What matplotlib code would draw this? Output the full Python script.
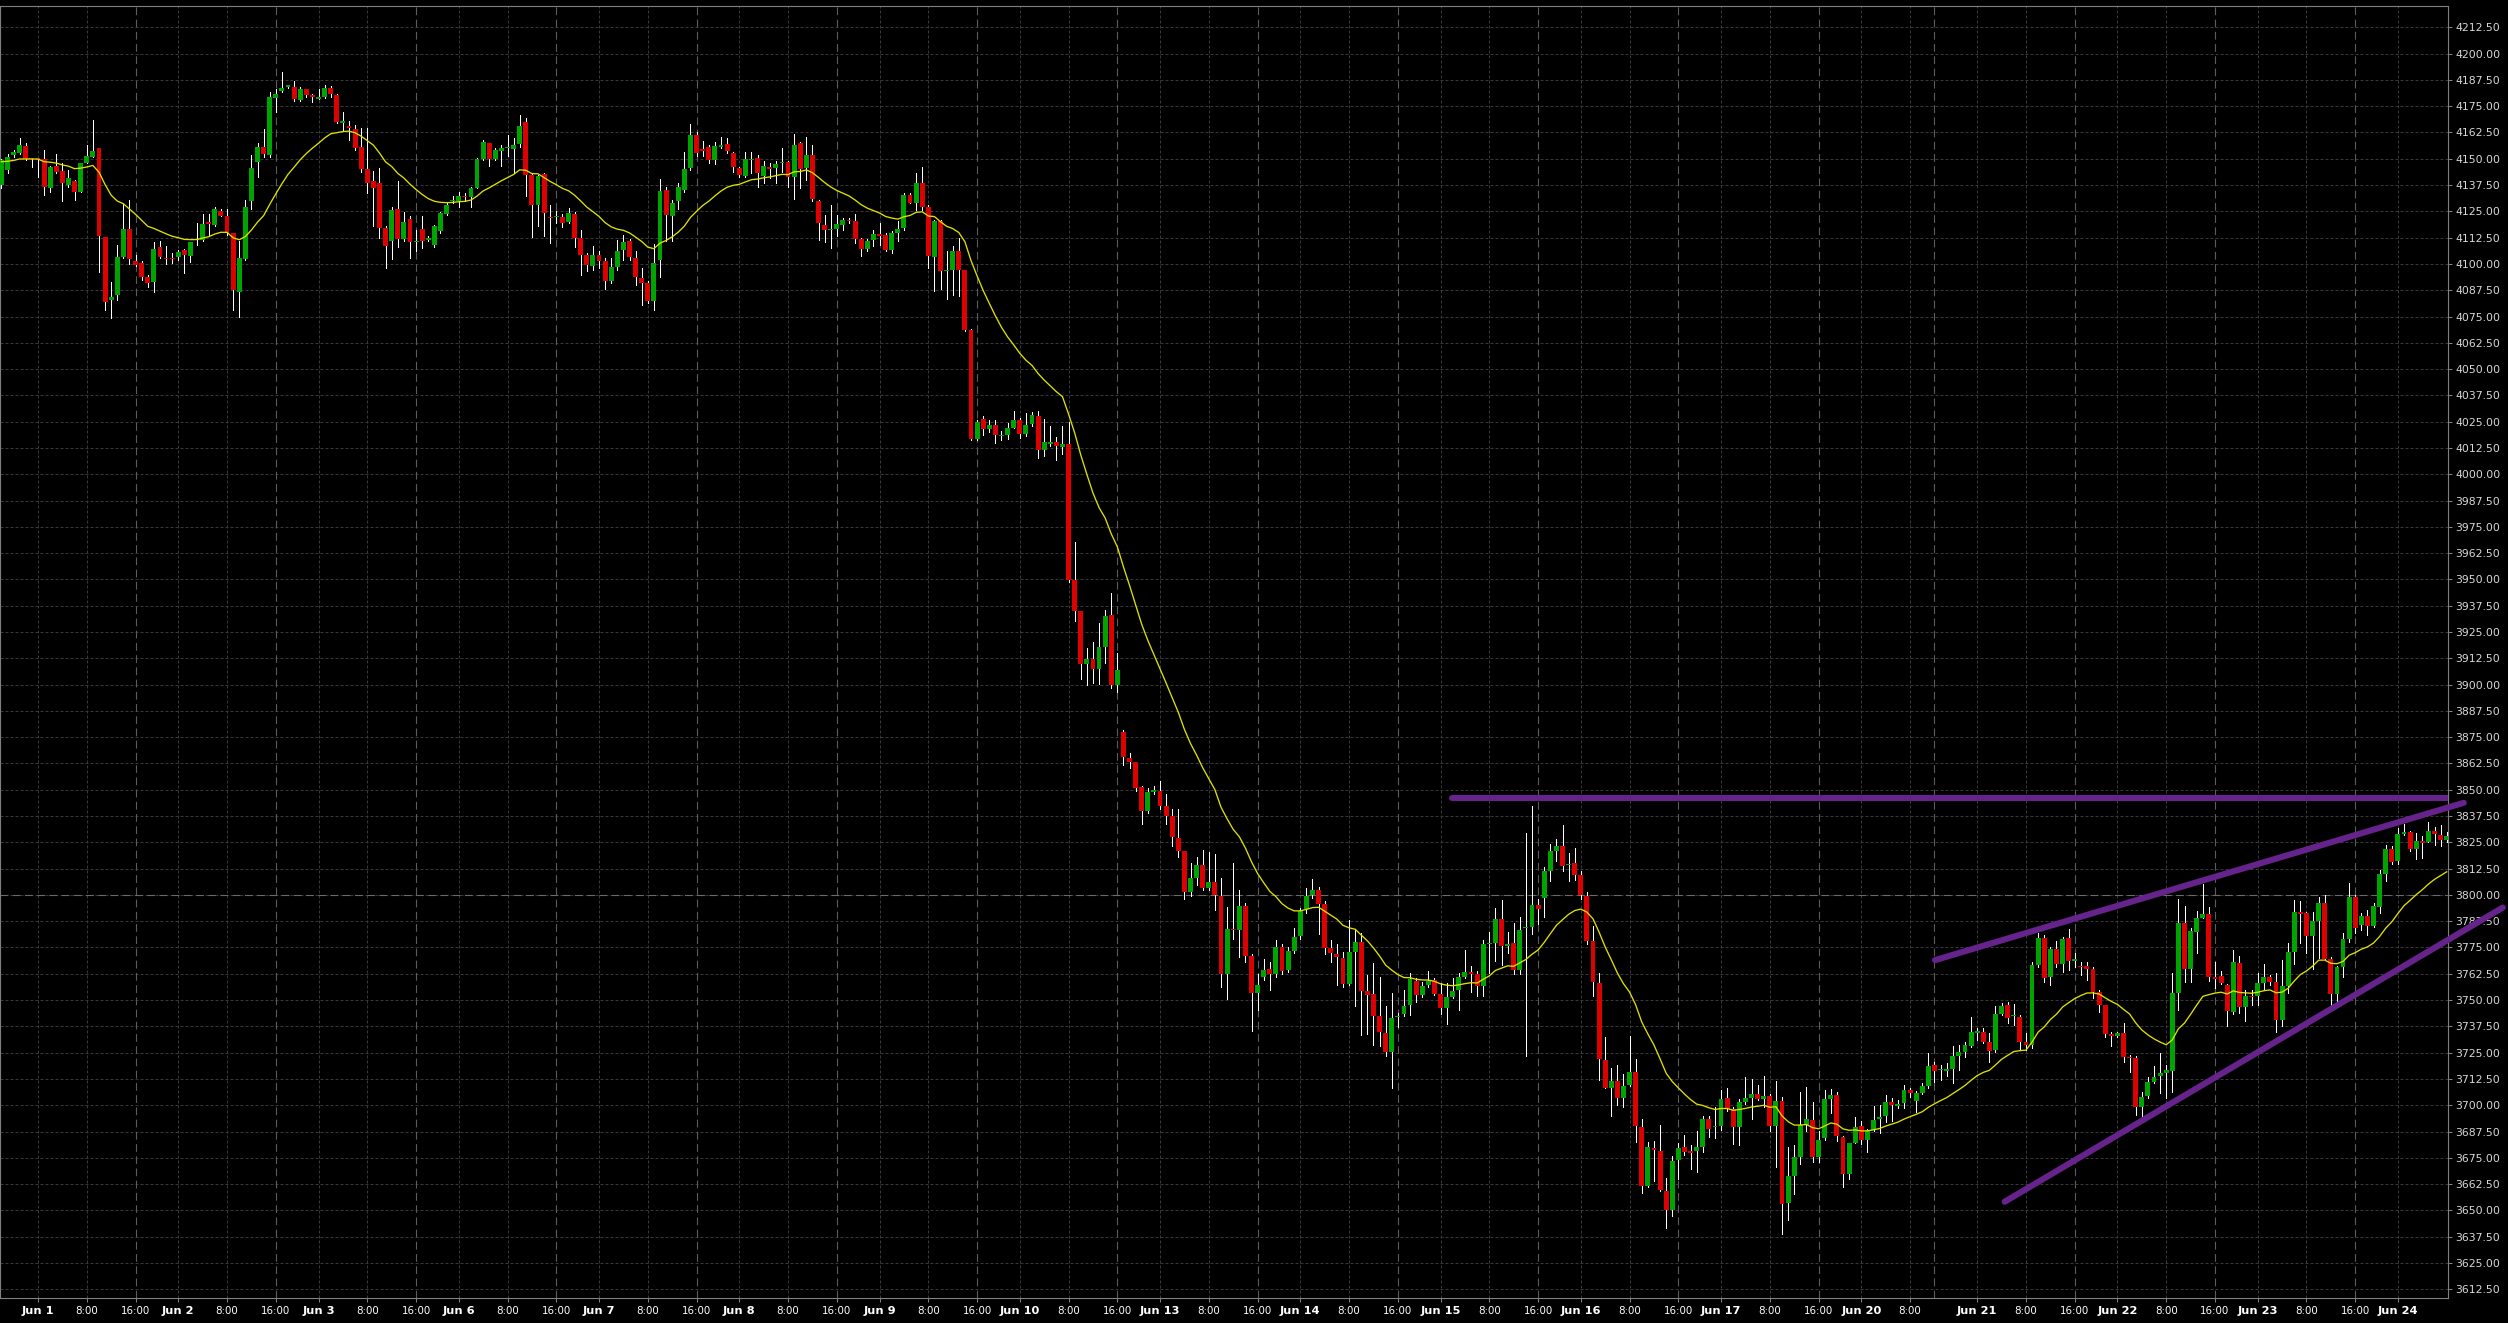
import matplotlib
matplotlib.use('Agg')
import matplotlib.pyplot as plt
import numpy as np

# ---------------- data (hourly bars, index 0..401) ----------------
opens = [
    4137.6, 4144.7, 4152.0, 4152.6, 4156.0, 4149.9, 4150.3, 4149.9, 4136.3, 4146.6,
    4144.2, 4137.3, 4139.5, 4134.4, 4148.0, 4151.0, 4155.1, 4113.0, 4082.7, 4085.1,
    4103.1, 4116.7, 4101.5, 4100.6, 4094.0, 4091.3, 4108.2, 4102.6, 4102.6, 4103.1,
    4106.8, 4103.6, 4111.3, 4111.5, 4120.0, 4118.3, 4125.4, 4122.9, 4114.8, 4086.5,
    4102.5, 4129.7, 4148.6, 4155.4, 4151.8, 4179.1, 4182.3, 4184.2, 4183.9, 4178.0,
    4183.1, 4180.4, 4178.5, 4179.3, 4183.7, 4180.2, 4167.1, 4165.4, 4164.1, 4155.6,
    4144.9, 4139.5, 4138.5, 4117.3, 4110.7, 4126.2, 4111.8, 4121.5, 4110.2, 4116.8,
    4111.5, 4108.8, 4115.5, 4123.7, 4129.7, 4130.0, 4132.5, 4132.0, 4136.3, 4150.1,
    4157.3, 4150.1, 4153.7, 4155.0, 4154.7, 4157.0, 4167.5, 4142.3, 4128.1, 4142.8,
    4122.4, 4122.1, 4122.1, 4119.7, 4123.8, 4112.3, 4104.1, 4098.9, 4104.1, 4101.2,
    4091.7, 4098.4, 4106.8, 4111.0, 4102.8, 4093.3, 4091.0, 4082.6, 4101.7, 4135.2,
    4122.9, 4129.7, 4135.2, 4145.8, 4161.3, 4154.7, 4155.7, 4149.4, 4155.7, 4157.2,
    4152.6, 4145.5, 4142.0, 4149.3, 4150.2, 4142.0, 4145.9, 4145.8, 4147.9, 4148.6,
    4141.5, 4157.3, 4145.5, 4151.8, 4130.0, 4118.6, 4115.9, 4116.6, 4118.3, 4121.0,
    4120.5, 4111.8, 4107.1, 4111.5, 4114.3, 4113.9, 4106.8, 4114.7, 4117.0, 4132.8,
    4129.2, 4138.4, 4127.3, 4103.1, 4120.2, 4096.5, 4097.3, 4106.3, 4097.3, 4068.6,
    4016.9, 4026.1, 4021.7, 4023.5, 4018.1, 4018.8, 4022.0, 4025.6, 4019.3, 4023.7,
    4027.8, 4011.3, 4014.5, 4015.4, 4012.8, 4014.5, 3949.7, 3935.1, 3909.6, 3912.0,
    3907.2, 3917.9, 3932.9, 3899.9, 3877.3, 3864.9, 3863.3, 3851.1, 3839.7, 3848.9,
    3849.4, 3842.1, 3837.3, 3827.1, 3820.8, 3801.6, 3808.2, 3814.2, 3803.3, 3806.2,
    3799.4, 3762.5, 3783.9, 3783.2, 3794.8, 3771.0, 3753.5, 3760.8, 3765.0, 3762.5,
    3775.4, 3764.5, 3773.5, 3780.7, 3793.1, 3800.1, 3802.1, 3795.5, 3774.9, 3771.7,
    3769.8, 3757.7, 3773.0, 3777.4, 3754.3, 3752.8, 3742.6, 3734.5, 3725.2, 3741.8,
    3743.6, 3747.7, 3759.2, 3752.5, 3757.1, 3759.5, 3753.0, 3746.3, 3751.3, 3754.6,
    3761.1, 3763.3, 3762.5, 3756.7, 3776.7, 3777.0, 3788.6, 3775.5, 3777.0, 3764.1,
    3784.1, 3784.9, 3795.1, 3798.7, 3811.5, 3820.8, 3823.3, 3814.3, 3815.2, 3809.3,
    3799.6, 3778.0, 3758.2, 3721.7, 3708.3, 3711.6, 3703.4, 3709.6, 3715.9, 3689.7,
    3661.8, 3679.9, 3678.3, 3659.3, 3650.0, 3674.0, 3680.2, 3678.3, 3678.1, 3680.2,
    3693.3, 3689.5, 3689.9, 3703.4, 3698.2, 3689.7, 3701.5, 3703.6, 3705.5, 3703.1,
    3704.3, 3690.0, 3701.8, 3653.6, 3666.3, 3675.3, 3690.8, 3692.8, 3675.3, 3684.3,
    3703.1, 3705.1, 3685.1, 3667.5, 3682.2, 3690.0, 3683.5, 3688.1, 3693.3, 3694.9,
    3701.4, 3699.8, 3700.9, 3707.2, 3702.2, 3705.6, 3709.3, 3719.1, 3716.6, 3716.4,
    3717.1, 3723.4, 3725.2, 3728.2, 3734.5, 3735.0, 3729.9, 3726.2, 3743.4, 3747.7,
    3742.4, 3742.1, 3730.2, 3728.6, 3766.7, 3779.4, 3761.1, 3774.3, 3767.1, 3779.4,
    3768.6, 3766.4, 3766.2, 3764.8, 3754.0, 3747.7, 3733.9, 3733.1, 3734.5, 3723.1,
    3722.6, 3699.3, 3704.4, 3710.9, 3713.9, 3715.5, 3716.4, 3753.2, 3786.5, 3764.6,
    3782.5, 3789.2, 3790.9, 3760.8, 3761.4, 3757.1, 3744.4, 3767.8, 3746.9, 3752.1,
    3751.9, 3758.3, 3761.1, 3758.7, 3740.5, 3756.7, 3773.0, 3792.0, 3791.6, 3780.5,
    3787.6, 3796.0, 3769.4, 3752.9, 3765.9, 3778.9, 3799.2, 3785.7, 3790.0, 3785.4,
    3794.4, 3809.9, 3821.8, 3816.3, 3828.9, 3830.0, 3821.7, 3825.6, 3825.1, 3830.4,
    3828.5, 3826.1,
]

highs = [
    4150.0, 4152.1, 4154.2, 4159.7, 4157.3, 4150.2, 4150.4, 4154.2, 4146.5, 4152.1,
    4147.8, 4144.7, 4140.0, 4148.2, 4156.5, 4168.4, 4155.3, 4113.0, 4091.3, 4109.1,
    4128.6, 4130.5, 4104.4, 4101.2, 4094.9, 4110.2, 4110.7, 4108.4, 4105.2, 4106.8,
    4107.2, 4110.6, 4119.4, 4123.7, 4123.5, 4127.3, 4126.2, 4126.0, 4114.8, 4110.7,
    4130.5, 4151.8, 4157.7, 4164.0, 4181.8, 4183.4, 4191.2, 4185.3, 4187.0, 4183.9,
    4183.4, 4181.0, 4183.4, 4185.3, 4184.8, 4181.0, 4172.2, 4167.9, 4165.9, 4164.4,
    4164.4, 4144.2, 4145.8, 4117.8, 4127.3, 4139.2, 4124.9, 4122.6, 4116.2, 4122.6,
    4113.1, 4118.6, 4124.9, 4128.9, 4132.3, 4134.4, 4133.6, 4136.8, 4150.5, 4158.9,
    4157.7, 4155.0, 4156.5, 4161.3, 4159.7, 4170.8, 4169.2, 4143.0, 4142.3, 4143.1,
    4128.1, 4125.4, 4123.8, 4126.5, 4124.5, 4116.3, 4105.2, 4108.3, 4106.0, 4102.8,
    4102.8, 4111.5, 4113.7, 4111.8, 4106.0, 4098.1, 4091.7, 4109.4, 4140.3, 4136.8,
    4130.5, 4138.7, 4153.4, 4166.5, 4162.9, 4158.4, 4156.5, 4158.1, 4160.5, 4159.7,
    4153.4, 4146.3, 4153.4, 4153.4, 4151.8, 4149.1, 4147.9, 4149.1, 4155.0, 4149.1,
    4161.8, 4158.1, 4160.5, 4156.5, 4130.5, 4123.4, 4128.1, 4123.4, 4121.8, 4121.8,
    4123.8, 4112.3, 4111.8, 4115.9, 4119.4, 4114.7, 4115.5, 4120.2, 4133.6, 4133.6,
    4143.4, 4145.9, 4128.1, 4121.0, 4121.0, 4106.0, 4108.3, 4112.3, 4097.3, 4069.0,
    4025.9, 4027.8, 4025.9, 4025.9, 4020.5, 4024.2, 4030.2, 4026.6, 4029.0, 4029.5,
    4030.2, 4026.1, 4022.9, 4017.9, 4022.9, 4024.9, 3967.6, 3935.1, 3917.4, 3920.3,
    3929.5, 3935.6, 3943.6, 3914.9, 3878.5, 3867.6, 3863.3, 3851.8, 3850.6, 3851.8,
    3854.3, 3848.2, 3840.9, 3840.9, 3820.8, 3815.4, 3817.9, 3821.5, 3820.3, 3819.6,
    3808.2, 3794.1, 3815.4, 3802.1, 3796.0, 3771.7, 3762.5, 3769.3, 3768.1, 3778.5,
    3776.6, 3775.4, 3784.4, 3793.6, 3803.3, 3807.4, 3803.8, 3797.2, 3778.5, 3776.6,
    3773.0, 3788.3, 3783.9, 3782.0, 3762.1, 3767.4, 3760.8, 3747.2, 3753.3, 3744.0,
    3754.6, 3762.8, 3760.3, 3758.7, 3763.9, 3760.3, 3757.9, 3757.9, 3760.6, 3762.8,
    3773.9, 3766.0, 3763.6, 3778.6, 3782.4, 3793.8, 3797.6, 3782.4, 3786.5, 3789.7,
    3829.4, 3842.5, 3797.9, 3813.4, 3824.1, 3826.5, 3833.4, 3820.0, 3822.1, 3811.3,
    3801.2, 3785.3, 3762.8, 3732.5, 3717.8, 3719.1, 3714.9, 3733.0, 3722.2, 3693.3,
    3682.7, 3683.0, 3690.8, 3665.2, 3676.1, 3681.9, 3686.0, 3681.0, 3687.6, 3694.9,
    3694.9, 3699.0, 3707.2, 3708.3, 3699.0, 3703.1, 3713.2, 3712.6, 3709.6, 3713.7,
    3705.5, 3711.6, 3703.9, 3680.2, 3681.0, 3706.4, 3708.8, 3701.5, 3687.6, 3707.2,
    3707.5, 3706.4, 3685.5, 3682.2, 3694.4, 3692.5, 3688.7, 3699.8, 3700.0, 3704.9,
    3703.3, 3702.5, 3709.6, 3708.0, 3707.0, 3710.4, 3725.0, 3720.7, 3719.1, 3720.0,
    3728.2, 3728.6, 3730.2, 3741.8, 3736.9, 3736.6, 3734.2, 3747.2, 3748.8, 3749.2,
    3748.1, 3742.9, 3734.2, 3768.3, 3781.7, 3780.9, 3775.4, 3778.1, 3780.1, 3783.8,
    3772.2, 3768.3, 3768.3, 3765.9, 3754.8, 3747.7, 3735.0, 3735.0, 3738.9, 3723.9,
    3723.4, 3706.4, 3713.6, 3718.6, 3724.7, 3719.1, 3763.0, 3797.9, 3794.9, 3784.4,
    3792.3, 3805.2, 3794.4, 3768.3, 3764.0, 3757.6, 3773.8, 3771.0, 3754.8, 3754.8,
    3762.7, 3767.1, 3761.9, 3762.7, 3769.0, 3777.3, 3797.6, 3797.3, 3792.0, 3792.0,
    3799.2, 3799.9, 3770.3, 3766.2, 3782.0, 3805.8, 3800.0, 3791.2, 3792.8, 3796.0,
    3811.8, 3823.7, 3823.2, 3831.6, 3833.7, 3830.5, 3829.6, 3828.0, 3834.6, 3832.4,
    3833.2, 3830.0,
]

lows = [
    4136.0, 4143.4, 4151.0, 4152.1, 4149.4, 4146.3, 4141.5, 4132.8, 4134.4, 4143.1,
    4129.7, 4136.8, 4130.2, 4134.0, 4147.8, 4150.7, 4096.0, 4078.3, 4074.4, 4083.0,
    4102.8, 4100.1, 4098.8, 4092.5, 4088.9, 4086.5, 4102.8, 4100.0, 4100.4, 4102.0,
    4095.5, 4100.7, 4109.1, 4110.7, 4113.4, 4117.8, 4122.6, 4113.9, 4078.1, 4074.7,
    4101.9, 4125.9, 4141.5, 4151.0, 4151.0, 4172.0, 4181.8, 4183.8, 4177.7, 4177.6,
    4179.5, 4177.1, 4178.2, 4179.0, 4179.5, 4167.1, 4163.6, 4159.1, 4154.2, 4143.9,
    4133.6, 4117.8, 4112.3, 4098.1, 4102.3, 4107.9, 4110.7, 4102.8, 4106.0, 4107.6,
    4110.7, 4108.0, 4114.5, 4123.3, 4128.9, 4127.3, 4129.7, 4127.3, 4136.0, 4149.4,
    4146.6, 4149.4, 4146.6, 4151.5, 4143.4, 4155.4, 4132.1, 4112.6, 4117.8, 4113.1,
    4109.9, 4119.4, 4117.4, 4119.4, 4108.0, 4094.9, 4096.8, 4097.3, 4098.1, 4088.3,
    4091.0, 4097.3, 4102.0, 4102.0, 4090.2, 4080.7, 4081.5, 4078.3, 4093.8, 4110.7,
    4110.7, 4126.2, 4134.4, 4144.7, 4151.5, 4151.5, 4148.2, 4147.5, 4155.0, 4152.6,
    4143.7, 4141.2, 4141.5, 4143.1, 4136.8, 4138.4, 4140.8, 4138.4, 4143.9, 4136.5,
    4130.8, 4136.3, 4139.9, 4129.7, 4111.5, 4110.2, 4107.6, 4113.1, 4116.2, 4119.4,
    4109.9, 4103.6, 4106.0, 4108.6, 4109.1, 4106.3, 4105.2, 4110.7, 4116.2, 4128.9,
    4125.7, 4125.7, 4098.1, 4087.0, 4088.3, 4083.4, 4085.4, 4084.6, 4068.0, 4016.5,
    4016.4, 4018.8, 4020.0, 4015.0, 4016.4, 4016.9, 4021.8, 4017.4, 4018.1, 4023.0,
    4007.7, 4008.9, 4013.3, 4006.7, 4009.6, 3948.9, 3930.2, 3902.8, 3899.9, 3900.9,
    3900.4, 3910.1, 3898.5, 3896.7, 3862.0, 3860.3, 3849.4, 3833.6, 3839.0, 3848.2,
    3840.9, 3833.6, 3823.2, 3817.8, 3798.0, 3799.7, 3804.5, 3802.1, 3802.1, 3792.9,
    3756.0, 3750.4, 3779.0, 3770.5, 3768.1, 3735.3, 3745.1, 3759.6, 3754.8, 3760.8,
    3762.5, 3763.3, 3772.2, 3779.0, 3791.2, 3798.4, 3781.5, 3771.7, 3768.1, 3757.2,
    3756.0, 3757.2, 3747.0, 3733.4, 3734.1, 3728.5, 3728.1, 3723.6, 3708.3, 3737.4,
    3742.3, 3742.7, 3748.9, 3751.3, 3756.2, 3752.5, 3743.2, 3738.8, 3750.8, 3745.1,
    3760.3, 3753.8, 3751.8, 3752.1, 3762.8, 3768.5, 3766.5, 3772.6, 3762.3, 3762.3,
    3723.5, 3781.2, 3786.0, 3789.7, 3806.6, 3816.2, 3811.5, 3806.4, 3807.2, 3798.2,
    3776.7, 3751.8, 3712.1, 3708.0, 3694.9, 3700.2, 3699.0, 3709.3, 3682.7, 3658.2,
    3661.1, 3663.9, 3659.0, 3641.8, 3647.5, 3665.0, 3676.5, 3669.6, 3668.3, 3677.8,
    3685.1, 3684.3, 3688.4, 3697.4, 3681.5, 3681.0, 3700.7, 3693.3, 3702.3, 3699.0,
    3687.6, 3670.4, 3639.0, 3645.6, 3657.7, 3672.0, 3687.6, 3673.2, 3672.9, 3683.5,
    3696.2, 3683.0, 3661.1, 3664.7, 3681.9, 3681.5, 3677.8, 3687.6, 3687.0, 3692.2,
    3692.6, 3698.5, 3698.5, 3704.0, 3697.0, 3705.2, 3708.0, 3711.2, 3712.0, 3714.0,
    3710.4, 3716.7, 3723.1, 3727.5, 3731.0, 3729.4, 3720.7, 3725.5, 3742.9, 3738.9,
    3738.1, 3726.6, 3726.2, 3727.0, 3765.9, 3758.7, 3757.2, 3765.9, 3763.5, 3764.3,
    3765.9, 3761.9, 3759.5, 3750.8, 3744.5, 3732.6, 3728.2, 3732.6, 3720.7, 3715.9,
    3695.3, 3694.2, 3703.3, 3710.4, 3705.6, 3703.3, 3706.4, 3745.3, 3758.7, 3758.7,
    3772.5, 3788.9, 3759.2, 3755.6, 3757.6, 3737.8, 3743.4, 3743.7, 3740.2, 3747.7,
    3747.7, 3754.8, 3757.2, 3735.0, 3737.7, 3753.2, 3767.1, 3777.3, 3772.5, 3764.6,
    3769.8, 3769.1, 3747.7, 3748.4, 3761.1, 3777.8, 3782.0, 3783.3, 3780.9, 3784.9,
    3791.2, 3806.8, 3814.7, 3814.7, 3828.5, 3820.9, 3816.9, 3817.4, 3825.1, 3823.7,
    3823.2, 3825.0,
]

closes = [
    4149.4, 4150.7, 4153.2, 4156.5, 4149.9, 4149.8, 4149.4, 4136.8, 4146.1, 4143.9,
    4138.7, 4140.9, 4134.0, 4148.0, 4151.3, 4153.7, 4113.5, 4081.8, 4084.5, 4103.4,
    4116.7, 4102.2, 4099.3, 4094.0, 4090.8, 4107.2, 4103.4, 4102.2, 4102.2, 4105.8,
    4104.1, 4110.6, 4111.8, 4119.1, 4119.1, 4126.2, 4123.0, 4114.7, 4087.5, 4103.0,
    4127.2, 4145.8, 4155.4, 4152.4, 4179.3, 4180.9, 4183.7, 4185.0, 4178.4, 4183.1,
    4180.4, 4179.6, 4179.3, 4183.7, 4180.9, 4167.6, 4167.9, 4164.8, 4155.3, 4144.9,
    4138.7, 4136.3, 4116.9, 4108.3, 4125.7, 4112.0, 4120.0, 4110.2, 4111.0, 4110.7,
    4112.4, 4117.8, 4124.3, 4127.8, 4130.5, 4132.4, 4131.6, 4136.3, 4150.1, 4158.1,
    4150.1, 4154.2, 4155.3, 4155.5, 4156.6, 4165.6, 4142.3, 4128.1, 4141.9, 4124.0,
    4121.6, 4122.9, 4119.4, 4124.1, 4112.3, 4104.1, 4099.3, 4104.1, 4101.2, 4091.7,
    4098.4, 4106.3, 4110.6, 4103.1, 4093.8, 4091.0, 4082.3, 4100.4, 4134.7, 4123.4,
    4129.2, 4136.5, 4145.2, 4161.3, 4152.6, 4153.9, 4149.4, 4156.2, 4156.5, 4153.7,
    4146.0, 4142.3, 4149.9, 4150.1, 4143.4, 4146.6, 4145.2, 4147.5, 4148.6, 4141.5,
    4156.5, 4145.2, 4151.8, 4130.9, 4119.4, 4115.9, 4116.6, 4119.1, 4121.0, 4120.2,
    4111.8, 4107.1, 4111.0, 4114.3, 4113.4, 4106.8, 4114.7, 4116.6, 4132.8, 4129.2,
    4138.4, 4127.3, 4103.6, 4120.2, 4096.8, 4097.3, 4106.3, 4097.3, 4068.8, 4016.9,
    4024.7, 4021.3, 4023.5, 4018.8, 4018.2, 4022.0, 4025.6, 4019.3, 4023.2, 4028.1,
    4011.3, 4015.2, 4015.4, 4013.3, 4014.5, 3949.7, 3935.1, 3909.6, 3912.0, 3907.2,
    3917.9, 3932.4, 3899.9, 3906.9, 3865.7, 3863.3, 3850.6, 3839.7, 3848.9, 3849.9,
    3842.1, 3837.3, 3827.6, 3820.8, 3801.6, 3808.2, 3814.2, 3803.3, 3806.2, 3800.1,
    3762.5, 3783.9, 3783.2, 3794.8, 3771.0, 3753.5, 3757.2, 3764.5, 3762.5, 3775.4,
    3764.0, 3773.5, 3780.2, 3792.4, 3799.7, 3802.1, 3795.5, 3774.9, 3772.2, 3770.5,
    3757.7, 3773.0, 3777.4, 3754.3, 3752.4, 3742.6, 3734.8, 3725.2, 3741.5, 3742.3,
    3747.2, 3759.8, 3752.6, 3756.7, 3759.2, 3753.0, 3746.3, 3751.3, 3754.3, 3761.1,
    3763.3, 3762.5, 3756.7, 3776.7, 3777.0, 3788.6, 3775.5, 3776.7, 3764.1, 3783.2,
    3784.7, 3795.1, 3793.5, 3811.3, 3820.8, 3823.3, 3813.9, 3814.7, 3809.7, 3799.9,
    3778.3, 3758.4, 3721.9, 3708.3, 3711.3, 3703.4, 3709.3, 3715.9, 3690.0, 3661.8,
    3680.2, 3678.6, 3659.8, 3650.0, 3673.7, 3679.7, 3677.8, 3677.4, 3680.2, 3693.6,
    3688.7, 3689.9, 3703.1, 3698.2, 3689.7, 3701.5, 3703.4, 3705.5, 3703.1, 3704.3,
    3690.0, 3701.8, 3653.1, 3666.3, 3675.3, 3690.8, 3693.3, 3675.3, 3683.5, 3702.8,
    3705.1, 3685.5, 3667.5, 3681.9, 3689.7, 3683.5, 3688.1, 3693.0, 3694.6, 3701.4,
    3700.1, 3700.5, 3707.2, 3705.6, 3706.0, 3709.1, 3718.8, 3716.4, 3716.9, 3717.1,
    3723.4, 3725.2, 3728.6, 3735.0, 3735.3, 3730.2, 3725.9, 3743.4, 3747.2, 3741.6,
    3742.6, 3730.2, 3728.6, 3766.7, 3779.4, 3760.6, 3774.3, 3767.1, 3779.0, 3768.6,
    3769.4, 3765.9, 3764.6, 3754.0, 3747.7, 3733.9, 3733.1, 3734.5, 3723.1, 3722.3,
    3699.3, 3703.8, 3711.2, 3713.6, 3715.5, 3716.7, 3753.2, 3786.5, 3764.6, 3783.0,
    3789.2, 3790.9, 3760.8, 3760.0, 3757.9, 3744.9, 3768.3, 3746.5, 3751.9, 3751.3,
    3758.3, 3761.1, 3758.7, 3740.5, 3756.7, 3773.0, 3792.0, 3790.9, 3780.5, 3787.6,
    3796.0, 3769.4, 3752.9, 3765.6, 3778.9, 3799.2, 3784.1, 3790.0, 3785.4, 3794.7,
    3809.9, 3821.8, 3815.8, 3828.9, 3830.0, 3821.7, 3825.6, 3824.9, 3830.4, 3829.0,
    3826.1, 3828.0,
]

# moving average (EMA) settings; value of the average just before the first bar
ma_period = 20
ma_seed = 4148.5

# x-axis labels (bar index -> text)
tick_bars = [6, 14, 22, 29, 37, 45, 52, 60, 68, 75, 83, 91, 98, 106, 114,
             121, 129, 137, 144, 152, 160, 167, 175, 183, 190, 198, 206,
             213, 221, 229, 236, 244, 252, 259, 267, 275, 282, 290, 298,
             305, 313, 324, 332, 340, 347, 355, 363, 370, 378, 386, 393]
tick_labels = ['Jun 1', '8:00', '16:00', 'Jun 2', '8:00', '16:00', 'Jun 3', '8:00', '16:00',
               'Jun 6', '8:00', '16:00', 'Jun 7', '8:00', '16:00', 'Jun 8', '8:00', '16:00',
               'Jun 9', '8:00', '16:00', 'Jun 10', '8:00', '16:00', 'Jun 13', '8:00', '16:00',
               'Jun 14', '8:00', '16:00', 'Jun 15', '8:00', '16:00', 'Jun 16', '8:00', '16:00',
               'Jun 17', '8:00', '16:00', 'Jun 20', '8:00', 'Jun 21', '8:00', '16:00',
               'Jun 22', '8:00', '16:00', 'Jun 23', '8:00', '16:00', 'Jun 24']
# session separators (bar index)
separator_bars = [22, 45, 68, 91, 114, 137, 160, 183, 206, 229, 252, 275, 298,
                  317, 340, 363, 386]

# price levels on the right axis
price_ticks = [3612.5 + 12.5 * k for k in range(49)]
highlight_level = 3800.0

# drawn trend lines: (bar, price) pairs
resistance_line = [(237.8, 3845.9), (401.2, 3845.9)]
upper_channel = [(317.1, 3769.0), (403.8, 3843.8)]
lower_channel = [(328.5, 3654.1), (410.2, 3794.0)]

# ---------------- drawing ----------------
W, H, DPI = 2508, 1323, 100
BG = '#000000'
UP = '#00a400'
DOWN = '#dc0000'
PURPLE = '#66238c'
MA_COL = '#e0e000'
GRID = '#383838'
FRAME = '#808080'

fig = plt.figure(figsize=(W / DPI, H / DPI), dpi=DPI, facecolor=BG)
ax = fig.add_axes([0.0, 1 - 1298 / H, 2448 / W, (1298 - 6) / H])
ax.set_facecolor(BG)

o = np.array(opens)
hi = np.array(highs)
lo = np.array(lows)
c = np.array(closes)
n = len(c)
x = np.arange(n)

xlim = (-0.23, 401.21)
ylim = (3608.35, 4222.63)
ax.set_xlim(*xlim)
ax.set_ylim(*ylim)

# grid
ax.hlines(price_ticks, xlim[0], xlim[1], colors=GRID, linewidth=0.72,
          linestyles=(0, (3, 2)), zorder=1)
ax.vlines([b for b in tick_bars if b not in separator_bars], ylim[0], ylim[1],
          colors=GRID, linewidth=0.72, linestyles=(0, (3, 2)), zorder=1)
ax.vlines(separator_bars, ylim[0], ylim[1], colors='#5c5c5c', linewidth=0.8,
          linestyles=(0, (7, 4)), zorder=1)
ax.hlines([highlight_level], xlim[0], xlim[1], colors='#6a6a6a', linewidth=0.8,
          linestyles=(0, (7, 4)), zorder=1)

# candles
ax.vlines(x, lo, hi, colors='white', linewidth=0.68, zorder=3, antialiased=False)
up = c >= o
body_bottom = np.minimum(o, c)
body_h = np.maximum(np.abs(c - o), 0.45)
ax.bar(x, body_h, bottom=body_bottom, width=0.8,
       color=np.where(up, UP, DOWN), linewidth=0, zorder=4)

# moving average
ema = []
prev = ma_seed
alpha = 2.0 / (ma_period + 1)
for cl in closes:
    prev = prev + alpha * (cl - prev)
    ema.append(prev)
ax.plot(x, ema, color=MA_COL, linewidth=0.95, zorder=5)

# trend lines
for pts, clip in ((resistance_line, True), (upper_channel, False), (lower_channel, False)):
    xs = [p[0] for p in pts]
    ys = [p[1] for p in pts]
    ax.plot(xs, ys, color=PURPLE, linewidth=4.4, solid_capstyle='round',
            zorder=6, clip_on=clip)

# axes styling
for sp in ax.spines.values():
    sp.set_color(FRAME)
    sp.set_linewidth(0.8)

ax.yaxis.tick_right()
ax.set_yticks(price_ticks)
ax.set_yticklabels([f'{v:.2f}' for v in price_ticks])
ax.tick_params(axis='y', which='both', right=True, left=False, labelright=True,
               labelleft=False, length=3, width=0.75, color=FRAME, pad=2,
               labelsize=7.8, labelcolor='#d8d8d8')
for t in ax.get_yticklabels():
    t.set_fontfamily('DejaVu Sans')

ax.set_xticks(tick_bars)
ax.set_xticklabels(tick_labels)
ax.tick_params(axis='x', length=3, width=0.75, color=FRAME, pad=3,
               labelsize=7.4, labelcolor='white')
for t in ax.get_xticklabels():
    if t.get_text().startswith('Jun'):
        t.set_fontweight('bold')
        t.set_fontsize(8.2)

fig.savefig('out.png', dpi=DPI, facecolor=BG)
